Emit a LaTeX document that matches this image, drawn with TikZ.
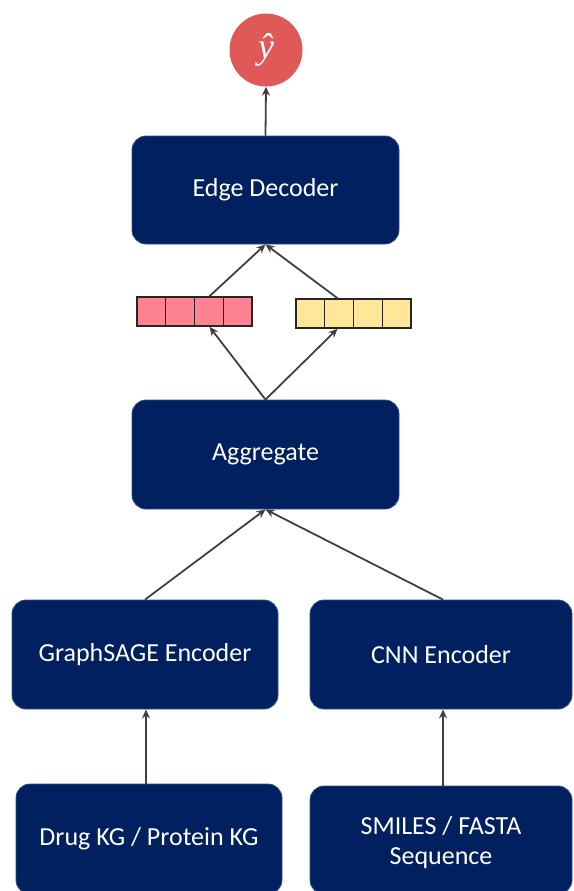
\documentclass[tikz,border=0pt]{standalone}
\usepackage{fontspec}
\setmainfont{Carlito}
\newfontfamily\hatfont{Liberation Serif}
\usetikzlibrary{arrows.meta,calc}
\definecolor{navy}{HTML}{002060}
\definecolor{navyedge}{HTML}{2F4F8F}
\definecolor{outred}{HTML}{E05858}
\definecolor{vecpink}{HTML}{FF8293}
\definecolor{vecyellow}{HTML}{FFE699}
\definecolor{arrowgray}{HTML}{404040}
\begin{document}
\begin{tikzpicture}[x=1pt,y=-1pt,
  blockbox/.style={rectangle, rounded corners=14pt, fill=navy, draw=navyedge, line width=0.8pt,
    text=white, align=center, font=\fontsize{26}{30}\selectfont, inner sep=0pt},
  vecbox/.style={rectangle, draw=black!85, line width=1.6pt, minimum width=115pt, minimum height=29pt, inner sep=0pt},
  conn/.style={draw=arrowgray, line width=1.8pt, -{Stealth[length=9pt,width=8pt]}}
]
\useasboundingbox (0,0) rectangle (573,891);
\clip (0,0) rectangle (573,891);

% output
\node[circle, fill=outred, minimum size=73pt, inner sep=0pt, text=white, font=\hatfont\itshape\fontsize{36}{36}\selectfont] (out) at (266,50) {\raisebox{-4pt}{ŷ}};

% blocks
\node[blockbox, minimum width=267pt, minimum height=108pt] (dec) at (265.5,190) {\raisebox{-2pt}{Edge Decoder}};
\node[blockbox, minimum width=267pt, minimum height=109pt] (agg) at (265.5,454.5) {\raisebox{-2pt}{Aggregate}};
\node[blockbox, minimum width=266pt, minimum height=109pt] (gs) at (145,654.5) {\raisebox{-2pt}{GraphSAGE Encoder}};
\node[blockbox, minimum width=262pt, minimum height=109pt] (cnn) at (441,654.5) {\raisebox{-2pt}{CNN Encoder}};
\node[blockbox, minimum width=266pt, minimum height=110pt] (kg) at (149,839) {\raisebox{-2pt}{Drug KG / Protein KG}};
\node[blockbox, minimum width=262pt, minimum height=108pt, text depth=0pt] (seq) at (441,840) {SMILES / FASTA\\Sequence};

% vectors
\node[vecbox, fill=vecpink] (vp) at (194.5,311.5) {};
\node[vecbox, fill=vecyellow] (vy) at (353.5,313.5) {};
\foreach \v in {vp,vy}{
  \foreach \k in {1,2,3}{
    \draw[black!85, line width=1.6pt] ($(\v.north west)!\k/4!(\v.north east)$) -- ($(\v.south west)!\k/4!(\v.south east)$);
  }
}

% connectors
\draw[conn] (dec.north) -- (out.south);
\draw[conn] ([xshift=15pt]vp.north) -- (dec.south);
\draw[conn] ([xshift=-16pt]vy.north) -- (dec.south);
\draw[conn] (agg.north) -- ([xshift=15pt]vp.south);
\draw[conn] (agg.north) -- ([xshift=-16pt]vy.south);
\draw[conn] (gs.north) -- (agg.south);
\draw[conn] ([xshift=2pt]cnn.north) -- (agg.south);
\draw[conn] ([xshift=-3pt]kg.north) -- ([xshift=1pt]gs.south);
\draw[conn] ([xshift=2pt]seq.north) -- ([xshift=2pt]cnn.south);
\end{tikzpicture}
\end{document}
